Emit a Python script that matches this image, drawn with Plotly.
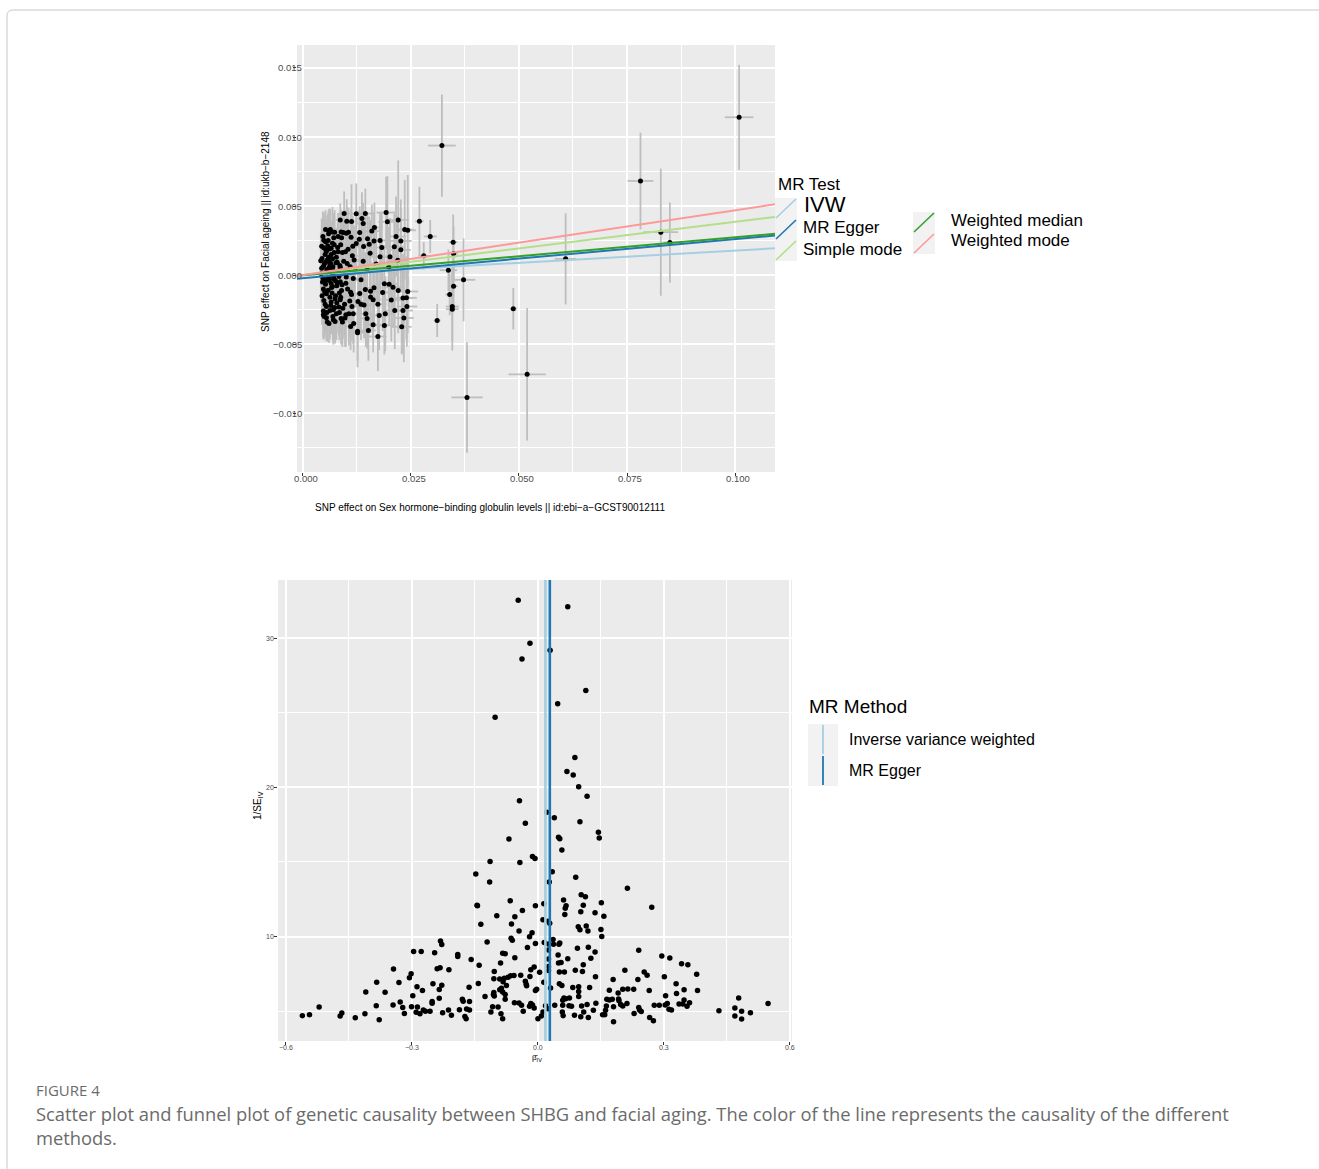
import plotly.graph_objects as go

# ---------------- DATA ----------------
# Top panel: SNP effects (exposure bx, outcome by) with standard errors
snp_bx = [0.0322, 0.0781, 0.1009, 0.0828, 0.0849, 0.0608, 0.0487, 0.0519, 0.0380, 0.0311,
          0.0348, 0.0349, 0.0337, 0.0372, 0.0349, 0.0340, 0.0346, 0.0346, 0.0295, 0.0280, 0.0270,
          0.0096, 0.0124, 0.0145, 0.0193, 0.0221, 0.0087, 0.0113, 0.0196, 0.0140, 0.0064,
          0.0061, 0.0069, 0.0089, 0.0094, 0.0101, 0.0132, 0.0236, 0.0243, 0.0166, 0.0112,
          0.0082, 0.0049, 0.0053, 0.0179, 0.0150, 0.0165, 0.0227, 0.0069, 0.0058, 0.0124,
          0.0154, 0.0212, 0.0227, 0.0049, 0.0066, 0.0081, 0.0105, 0.0141, 0.0055, 0.0073,
          0.0092, 0.0115, 0.0156, 0.0179, 0.0202, 0.0045, 0.0060, 0.0069, 0.0053, 0.0065,
          0.0080, 0.0103, 0.0140, 0.0220, 0.0048, 0.0061, 0.0087, 0.0121, 0.0149, 0.0199,
          0.0057, 0.0075, 0.0093, 0.0109, 0.0068, 0.0084, 0.0101, 0.0047, 0.0061, 0.0073,
          0.0117, 0.0135, 0.0087, 0.0100, 0.0053, 0.0069, 0.0079, 0.0189, 0.0200, 0.0165,
          0.0209, 0.0221, 0.0243, 0.0048, 0.0090, 0.0111, 0.0145, 0.0055, 0.0076, 0.0132,
          0.0157, 0.0185, 0.0240, 0.0049, 0.0066, 0.0087, 0.0109, 0.0163, 0.0232, 0.0157,
          0.0055, 0.0074, 0.0093, 0.0114, 0.0135, 0.0142, 0.0174, 0.0241, 0.0213, 0.0232,
          0.0048, 0.0063, 0.0085, 0.0100, 0.0117, 0.0146, 0.0177, 0.0149, 0.0055, 0.0071,
          0.0089, 0.0061, 0.0075, 0.0111, 0.0163, 0.0189, 0.0229, 0.0127, 0.0127, 0.0174,
          0.0042, 0.0044, 0.0046, 0.0051, 0.0052, 0.0056, 0.0058, 0.0059, 0.0063, 0.0064,
          0.0067, 0.0070, 0.0071, 0.0072, 0.0076, 0.0078, 0.0079, 0.0083, 0.0085, 0.0088,
          0.0091, 0.0095, 0.0098, 0.0053, 0.0050, 0.0057, 0.0066, 0.0043, 0.0062, 0.0074,
          0.0106, 0.0104, 0.0119, 0.0128, 0.0131, 0.0160, 0.0170, 0.0183, 0.0205, 0.0216,
          0.0234, 0.0191, 0.0152, 0.0118, 0.0137,
          0.0044, 0.0045, 0.0047, 0.0048, 0.0050, 0.0051, 0.0052, 0.0054, 0.0055, 0.0056,
          0.0057, 0.0059, 0.0060, 0.0062, 0.0063, 0.0065, 0.0066, 0.0068, 0.0069, 0.0070,
          0.0072, 0.0073, 0.0075, 0.0077, 0.0078, 0.0080, 0.0082, 0.0084, 0.0086, 0.0088,
          0.0090, 0.0092, 0.0094, 0.0097, 0.0099, 0.0102, 0.0107, 0.0110, 0.0113, 0.0116]
snp_by = [0.00938, 0.00682, 0.01143, 0.00311, 0.00236, 0.00118, -0.00243, -0.00718, -0.00885, -0.00328,
          0.00239, 0.00154, 0.00036, -0.00034, -0.00080, -0.00140, -0.00227, -0.00246, 0.00280, 0.00140, 0.00390,
          0.00446, 0.00444, 0.00446, 0.00453, 0.00400, 0.00400, 0.00388, 0.00386, 0.00374, 0.00330,
          0.00320, 0.00313, 0.00313, 0.00309, 0.00304, 0.00309, 0.00330, 0.00325, 0.00345, 0.00275,
          0.00280, 0.00253, 0.00241, 0.00251, 0.00263, 0.00248, 0.00248, 0.00231, 0.00212, 0.00229,
          0.00224, 0.00205, 0.00183, 0.00198, 0.00195, 0.00200, 0.00188, 0.00207, 0.00171, 0.00164,
          0.00164, 0.00140, 0.00159, 0.00133, 0.00133, 0.00121, 0.00130, 0.00118, 0.00094, 0.00082,
          0.00094, 0.00084, 0.00101, 0.00108, 0.00063, 0.00055, 0.00058, 0.00039, 0.00039, 0.00058,
          0.00027, 0.00022, 0.00014, 0.00024, 0.00000, -0.00010, -0.00014, -0.00022, -0.00039, -0.00029,
          -0.00024, -0.00034, -0.00048, -0.00058, -0.00065, -0.00082, -0.00077, -0.00063, -0.00065, -0.00092,
          -0.00087, -0.00111, -0.00118, -0.00101, -0.00111, -0.00123, -0.00104, -0.00135, -0.00149, -0.00133,
          -0.00159, -0.00125, -0.00164, -0.00183, -0.00195, -0.00178, -0.00188, -0.00178, -0.00166, -0.00116,
          -0.00227, -0.00234, -0.00239, -0.00227, -0.00210, -0.00217, -0.00210, -0.00227, -0.00256, -0.00256,
          -0.00287, -0.00256, -0.00270, -0.00287, -0.00280, -0.00280, -0.00292, -0.00313, -0.00309, -0.00323,
          -0.00313, -0.00350, -0.00335, -0.00371, -0.00359, -0.00364, -0.00374, -0.00407, -0.00417, -0.00444,
          0.00105, 0.00050, -0.00050, -0.00120, 0.00150, 0.00040, -0.00020, 0.00250, -0.00160, 0.00110,
          -0.00090, 0.00060, -0.00250, 0.00270, -0.00040, 0.00130, -0.00200, 0.00030, -0.00130, 0.00220,
          -0.00070, 0.00100, -0.00310, 0.00330, -0.00300, -0.00340, -0.00060, 0.00010, 0.00190, 0.00310,
          0.00310, -0.00100, 0.00110, -0.00190, 0.00260, 0.00320, 0.00080, 0.00200, -0.00180, 0.00280,
          -0.00310, -0.00280, -0.00400, -0.00350, 0.00410,
          0.00210, -0.00150, 0.00280, -0.00260, 0.00080, -0.00040, -0.00210, 0.00180, 0.00020, -0.00270,
          0.00110, -0.00110, 0.00300, -0.00030, 0.00080, -0.00220, 0.00150, -0.00130, 0.00040, -0.00300,
          -0.00010, 0.00220, -0.00170, 0.00090, -0.00280, -0.00060, 0.00170, -0.00230, 0.00070, -0.00160,
          0.00270, -0.00340, 0.00020, -0.00210, 0.00170, 0.00390, -0.00280, 0.00060, -0.00140, 0.00210]
snp_se_x = [0.0032, 0.0030, 0.0033, 0.0040, 0.0015, 0.0025, 0.0008, 0.0043, 0.0036, 0.0008,
            0.0010, 0.0010, 0.0020, 0.0027, 0.0010, 0.0010, 0.0015, 0.0015, 0.0015, 0.0012, 0.0010,
            0.0012, 0.0016, 0.0018, 0.0022, 0.0024, 0.0010, 0.0014, 0.0021, 0.0016, 0.0008,
            0.0007, 0.0009, 0.0010, 0.0011, 0.0012, 0.0016, 0.0020, 0.0019, 0.0019, 0.0013,
            0.0010, 0.0007, 0.0007, 0.0020, 0.0017, 0.0018, 0.0025, 0.0008, 0.0007, 0.0014,
            0.0018, 0.0022, 0.0023, 0.0006, 0.0008, 0.0009, 0.0012, 0.0017, 0.0007, 0.0009,
            0.0010, 0.0013, 0.0017, 0.0020, 0.0022, 0.0006, 0.0007, 0.0008, 0.0007, 0.0008,
            0.0009, 0.0012, 0.0017, 0.0023, 0.0006, 0.0007, 0.0009, 0.0014, 0.0017, 0.0021,
            0.0007, 0.0008, 0.0010, 0.0012, 0.0008, 0.0009, 0.0011, 0.0006, 0.0007, 0.0008,
            0.0014, 0.0016, 0.0009, 0.0011, 0.0007, 0.0008, 0.0009, 0.0021, 0.0022, 0.0018,
            0.0022, 0.0023, 0.0024, 0.0006, 0.0009, 0.0012, 0.0017, 0.0007, 0.0008, 0.0016,
            0.0018, 0.0020, 0.0024, 0.0006, 0.0008, 0.0009, 0.0012, 0.0018, 0.0023, 0.0018,
            0.0007, 0.0008, 0.0010, 0.0013, 0.0016, 0.0017, 0.0020, 0.0024, 0.0022, 0.0023,
            0.0006, 0.0007, 0.0009, 0.0011, 0.0014, 0.0017, 0.0020, 0.0017, 0.0007, 0.0008,
            0.0009, 0.0007, 0.0008, 0.0012, 0.0018, 0.0021, 0.0023, 0.0015, 0.0015, 0.0020,
            0.0006, 0.0006, 0.0006, 0.0007, 0.0007, 0.0007, 0.0007, 0.0007, 0.0008, 0.0008,
            0.0008, 0.0008, 0.0008, 0.0009, 0.0009, 0.0009, 0.0009, 0.0009, 0.0010, 0.0010,
            0.0010, 0.0010, 0.0011, 0.0007, 0.0007, 0.0007, 0.0008, 0.0006, 0.0008, 0.0009,
            0.0012, 0.0012, 0.0014, 0.0015, 0.0016, 0.0018, 0.0019, 0.0020, 0.0022, 0.0023,
            0.0023, 0.0021, 0.0017, 0.0014, 0.0016,
            0.0006, 0.0006, 0.0006, 0.0006, 0.0007, 0.0007, 0.0007, 0.0007, 0.0007, 0.0007,
            0.0007, 0.0007, 0.0008, 0.0008, 0.0008, 0.0008, 0.0008, 0.0008, 0.0008, 0.0008,
            0.0009, 0.0009, 0.0009, 0.0009, 0.0009, 0.0009, 0.0010, 0.0010, 0.0010, 0.0010,
            0.0010, 0.0010, 0.0011, 0.0011, 0.0011, 0.0011, 0.0012, 0.0012, 0.0013, 0.0013]
snp_se_y = [0.0037, 0.0035, 0.0038, 0.0046, 0.0029, 0.0033, 0.0015, 0.0048, 0.0040, 0.0012,
            0.0020, 0.0020, 0.0015, 0.0030, 0.0018, 0.0015, 0.0025, 0.0030, 0.0012, 0.0010, 0.0025,
            0.0016, 0.0022, 0.0018, 0.0026, 0.0043, 0.0012, 0.0027, 0.0033, 0.0015, 0.0015,
            0.0016, 0.0018, 0.0016, 0.0015, 0.0017, 0.0019, 0.0036, 0.0040, 0.0018, 0.0020,
            0.0017, 0.0020, 0.0019, 0.0020, 0.0017, 0.0021, 0.0030, 0.0017, 0.0022, 0.0018,
            0.0020, 0.0024, 0.0030, 0.0021, 0.0019, 0.0018, 0.0020, 0.0022, 0.0023, 0.0020,
            0.0021, 0.0027, 0.0024, 0.0026, 0.0028, 0.0022, 0.0021, 0.0024, 0.0022, 0.0023,
            0.0022, 0.0025, 0.0026, 0.0032, 0.0021, 0.0024, 0.0022, 0.0027, 0.0025, 0.0029,
            0.0023, 0.0021, 0.0024, 0.0022, 0.0022, 0.0023, 0.0021, 0.0024, 0.0022, 0.0021,
            0.0026, 0.0024, 0.0020, 0.0022, 0.0023, 0.0022, 0.0021, 0.0028, 0.0030, 0.0027,
            0.0029, 0.0031, 0.0030, 0.0023, 0.0022, 0.0025, 0.0026, 0.0024, 0.0023, 0.0027,
            0.0026, 0.0028, 0.0030, 0.0022, 0.0023, 0.0024, 0.0026, 0.0027, 0.0032, 0.0025,
            0.0022, 0.0023, 0.0022, 0.0025, 0.0026, 0.0024, 0.0027, 0.0029, 0.0028, 0.0031,
            0.0018, 0.0021, 0.0020, 0.0023, 0.0022, 0.0024, 0.0025, 0.0022, 0.0017, 0.0018,
            0.0019, 0.0014, 0.0016, 0.0017, 0.0020, 0.0021, 0.0020, 0.0026, 0.0020, 0.0025,
            0.0020, 0.0022, 0.0021, 0.0022, 0.0020, 0.0023, 0.0022, 0.0020, 0.0021, 0.0022,
            0.0023, 0.0022, 0.0020, 0.0018, 0.0022, 0.0021, 0.0022, 0.0023, 0.0022, 0.0020,
            0.0023, 0.0022, 0.0021, 0.0014, 0.0016, 0.0014, 0.0022, 0.0021, 0.0020, 0.0016,
            0.0018, 0.0024, 0.0025, 0.0025, 0.0021, 0.0019, 0.0028, 0.0026, 0.0030, 0.0029,
            0.0032, 0.0027, 0.0022, 0.0021, 0.0019,
            0.0020, 0.0021, 0.0018, 0.0019, 0.0022, 0.0023, 0.0021, 0.0020, 0.0022, 0.0020,
            0.0021, 0.0022, 0.0017, 0.0023, 0.0022, 0.0021, 0.0020, 0.0022, 0.0023, 0.0018,
            0.0022, 0.0020, 0.0022, 0.0021, 0.0019, 0.0022, 0.0021, 0.0021, 0.0022, 0.0023,
            0.0019, 0.0018, 0.0023, 0.0022, 0.0021, 0.0016, 0.0023, 0.0024, 0.0025, 0.0022]

# MR estimates (method, intercept, slope, colour)
mr_methods = ["IVW", "MR Egger", "Simple mode", "Weighted median", "Weighted mode"]
mr_intercepts = [0.0, -0.00022, 0.0, 0.0, 0.0]
mr_slopes = [0.0178, 0.0283, 0.0386, 0.0274, 0.0470]
mr_colors = ["#A6CEE3", "#1F78B4", "#B2DF8A", "#33A02C", "#FB9A99"]

# Bottom panel: funnel plot (single-SNP Wald ratio, 1/SE)
funnel_b = [-0.047, 0.071, -0.019, 0.029, -0.038, 0.114, 0.047, -0.102, 0.088, 0.069,
            0.084, 0.097, 0.117, -0.044, 0.021, 0.039, 0.100, -0.030, 0.144, 0.146,
            -0.069, 0.049, 0.052, 0.057, -0.013, -0.007, -0.114, -0.043, 0.034, -0.148,
            0.090, 0.027, -0.115, 0.213, 0.103, 0.113, -0.066, 0.061, 0.151, -0.145,
            -0.144, 0.014, -0.006, 0.108, 0.067, 0.065, 0.271, -0.037, 0.064, 0.102,
            0.136, 0.157, -0.098, -0.055, 0.012, 0.024, 0.028, -0.136, -0.063, 0.115,
            0.096, 0.100, 0.119, 0.150, -0.045, -0.014, -0.020, 0.152, -0.064, -0.061,
            0.036, 0.037, 0.052, 0.050, -0.006, -0.121, -0.232, -0.229, 0.015, 0.025,
            0.240, -0.025, 0.094, 0.120, 0.025, 0.136, -0.296, -0.278, -0.246, -0.084,
            -0.078, -0.191, -0.191, 0.048, -0.055, 0.126, 0.295, 0.314, -0.159, 0.025,
            0.071, 0.055, 0.049, -0.089, 0.342, 0.357, -0.140, 0.108, 0.025, -0.009,
            -0.017, -0.212, -0.240, -0.233, -0.344, 0.025, 0.089, 0.207, 0.253, 0.260,
            -0.104, 0.051, 0.063, 0.106, 0.004, -0.302, -0.306, 0.378, -0.065, -0.057,
            -0.071, -0.041, -0.080, -0.091, -0.105, 0.137, 0.301, -0.019, 0.014, -0.030,
            0.179, 0.238, -0.384, -0.331, -0.250, -0.142, -0.027, -0.028, -0.083, 0.051,
            0.057, 0.329, -0.288, -0.229, -0.164, -0.087, -0.075, 0.083, 0.097, 0.123,
            0.030, -0.003, -0.006, -0.275, -0.235, -0.091, 0.170, 0.202, 0.265, 0.380,
            0.348, -0.410, -0.364, -0.084, -0.105, 0.191, 0.214, 0.097, 0.330, 0.228,
            -0.298, -0.126, -0.106, -0.104, -0.078, 0.304, 0.066, 0.075, 0.059, 0.062,
            -0.235, -0.078, -0.180, -0.178, 0.097, 0.177, 0.170, 0.164, 0.192, 0.193,
            -0.163, 0.348, 0.361, 0.478, 0.548, -0.328, -0.252, -0.252, -0.056, -0.045,
            -0.039, -0.017, -0.013, -0.020, -0.385, -0.345, -0.322, -0.301, -0.287, -0.521,
            0.040, 0.059, 0.074, 0.080, 0.104, 0.117, 0.197, 0.202, 0.212, 0.180,
            0.277, 0.303, 0.308, 0.289, 0.345, 0.336, 0.355, 0.018, -0.009, -0.095,
            -0.108, -0.170, -0.163, -0.187, -0.213, -0.257, -0.273, -0.268, -0.281, -0.290,
            -0.318, -0.227, -0.206, -0.174, -0.171, -0.112, -0.088, -0.084, -0.035, 0.012,
            0.000, 0.008, 0.024, 0.058, 0.060, 0.087, 0.102, 0.109, 0.120, 0.132,
            0.159, 0.154, 0.161, 0.180, 0.229, 0.240, 0.242, 0.246, 0.266, 0.275,
            0.312, 0.318, 0.431, 0.469, 0.469, 0.485, 0.485, 0.506, 0.163, 0.138,
            -0.561, -0.544, -0.471, -0.467, -0.435, -0.412, -0.378]
funnel_inv_se = [32.54, 32.10, 29.66, 29.19, 28.60, 26.50, 25.60, 24.70, 22.00, 21.06,
                 20.83, 20.04, 19.40, 19.10, 18.34, 17.96, 17.70, 17.60, 17.00, 16.60,
                 16.54, 16.65, 16.56, 15.80, 15.37, 15.24, 15.03, 14.97, 14.34, 14.20,
                 13.98, 13.66, 13.66, 13.24, 12.80, 12.67, 12.40, 12.45, 12.27, 12.10,
                 12.07, 12.20, 12.07, 12.10, 12.07, 11.90, 11.96, 11.75, 11.48, 11.66,
                 11.60, 11.37, 11.40, 11.33, 11.12, 11.03, 10.90, 10.83, 10.85, 10.70,
                 10.65, 10.45, 10.38, 10.47, 10.38, 10.25, 9.98, 10.00, 9.89, 9.75,
                 9.80, 9.48, 9.57, 9.48, 9.53, 9.64, 9.70, 9.46, 9.60, 9.50,
                 9.08, 9.26, 9.21, 9.28, 9.10, 8.97, 9.00, 9.00, 8.92, 8.88,
                 8.85, 8.79, 8.67, 8.76, 8.58, 8.54, 8.70, 8.56, 8.47, 8.50,
                 8.52, 8.27, 8.22, 8.22, 8.18, 8.11, 8.07, 8.11, 8.00, 7.96,
                 7.78, 7.78, 7.84, 7.91, 7.82, 7.73, 7.75, 7.75, 7.62, 7.40,
                 7.66, 7.62, 7.62, 7.66, 7.60, 7.51, 7.24, 7.48, 7.37, 7.39,
                 7.28, 7.40, 7.20, 7.15, 7.17, 7.30, 7.30, 7.33, 6.94, 7.00,
                 7.12, 7.12, 6.94, 6.92, 6.83, 6.85, 6.70, 6.81, 6.97, 6.83,
                 6.72, 6.83, 6.63, 6.74, 6.60, 6.54, 6.72, 6.58, 6.63, 6.58,
                 6.56, 6.47, 6.38, 6.38, 6.45, 6.43, 6.40, 6.47, 6.38, 6.38,
                 6.43, 6.29, 6.27, 6.29, 6.25, 6.22, 6.49, 6.31, 6.18, 6.47,
                 6.04, 5.98, 6.11, 6.02, 6.11, 6.04, 5.84, 5.89, 5.73, 5.89,
                 5.87, 5.80, 5.80, 5.66, 5.98, 5.80, 5.75, 5.80, 5.82, 5.69,
                 5.64, 5.75, 5.56, 5.89, 5.51, 5.62, 5.64, 5.53, 5.56, 5.55,
                 5.39, 5.51, 5.42, 5.33, 5.37, 5.42, 5.24, 5.30, 5.28, 5.28,
                 5.39, 5.39, 5.37, 5.33, 5.35, 5.44, 5.44, 5.35, 5.51, 5.30,
                 5.39, 5.42, 5.51, 5.39, 5.48, 5.48, 5.33, 5.37, 5.22, 5.28,
                 5.30, 5.15, 5.08, 5.10, 5.08, 4.99, 5.08, 4.99, 4.83, 4.92,
                 4.85, 4.90, 4.72, 4.65, 4.49, 4.94, 4.83, 4.49, 4.99, 4.94,
                 4.49, 4.67, 5.17, 4.94, 4.70, 4.72, 4.63, 4.94, 4.58, 5.06,
                 4.76, 4.76, 5.06, 4.29, 4.85, 5.24, 5.08, 4.97, 4.58, 4.36,
                 5.12, 5.08, 5.02, 5.22, 4.67, 4.47, 4.99, 4.90, 5.35, 5.53,
                 4.70, 4.76, 4.67, 4.88, 4.56, 4.83, 4.43]
funnel_methods = ["Inverse variance weighted", "MR Egger"]
funnel_estimates = [0.0178, 0.0283]
funnel_colors = ["#A6CEE3", "#1F78B4"]

top_xticks = [0.000, 0.025, 0.050, 0.075, 0.100]
top_yticks = [-0.010, -0.005, 0.000, 0.005, 0.010, 0.015]
bot_xticks = [-0.6, -0.3, 0.0, 0.3, 0.6]
bot_yticks = [10, 20, 30]

# ---------------- LAYOUT HELPERS ----------------
W, H = 1319, 1169


def px(x):
    return x / W


def py(y):
    return 1 - y / H


TOP_XR = [-0.0013, 0.1092]
TOP_YR = [-0.01425, 0.01666]
BOT_XR = [-0.619, 0.605]
BOT_YR = [3.0, 33.9]

FONT = "Liberation Sans, Arial, Helvetica, sans-serif"
TICKCOL = "#4D4D4D"


def fmt(v, nd):
    s = f"{v:.{nd}f}"
    return s.replace("-", "\u2212")


fig = go.Figure()

# top scatter with error bars
fig.add_trace(go.Scatter(
    x=snp_bx, y=snp_by, mode="markers",
    marker=dict(color="black", size=5),
    error_x=dict(type="data", array=snp_se_x, color="#BEBEBE", thickness=1.8, width=0),
    error_y=dict(type="data", array=snp_se_y, color="#BEBEBE", thickness=1.8, width=0),
    xaxis="x", yaxis="y", showlegend=False, hoverinfo="skip"))

for name, a, b, c in zip(mr_methods, mr_intercepts, mr_slopes, mr_colors):
    fig.add_trace(go.Scatter(
        x=[TOP_XR[0], TOP_XR[1]], y=[a + b * TOP_XR[0], a + b * TOP_XR[1]],
        mode="lines", line=dict(color=c, width=2), name=name,
        xaxis="x", yaxis="y", showlegend=False, hoverinfo="skip"))

# funnel points
fig.add_trace(go.Scatter(
    x=funnel_b, y=funnel_inv_se, mode="markers",
    marker=dict(color="black", size=5.5),
    xaxis="x2", yaxis="y2", showlegend=False, hoverinfo="skip"))

for name, b, c in zip(funnel_methods, funnel_estimates, funnel_colors):
    fig.add_trace(go.Scatter(
        x=[b, b], y=[BOT_YR[0], BOT_YR[1]], mode="lines",
        line=dict(color=c, width=2.6), name=name,
        xaxis="x2", yaxis="y2", showlegend=False, hoverinfo="skip"))

axis_common = dict(showline=False, zeroline=False, showgrid=True, gridcolor="white",
                   ticks="outside", ticklen=3, tickwidth=1, tickcolor="#333333",
                   showticklabels=False, gridwidth=1.6)

fig.update_layout(
    width=W, height=H, margin=dict(l=0, r=0, t=0, b=0),
    paper_bgcolor="white", plot_bgcolor="#EBEBEB",
    xaxis=dict(domain=[px(297), px(775)], range=TOP_XR, tickvals=top_xticks, anchor="y",
               minor=dict(dtick=0.0125, tick0=0, showgrid=True, gridcolor="white",
                          gridwidth=0.8, ticks=""), **axis_common),
    yaxis=dict(domain=[py(472), py(45)], range=TOP_YR, tickvals=top_yticks, anchor="x",
               minor=dict(dtick=0.0025, tick0=0, showgrid=True, gridcolor="white",
                          gridwidth=0.8, ticks=""), **axis_common),
    xaxis2=dict(domain=[px(278), px(792)], range=BOT_XR, tickvals=bot_xticks, anchor="y2",
                minor=dict(dtick=0.15, tick0=0, showgrid=True, gridcolor="white",
                           gridwidth=0.8, ticks=""), **axis_common),
    yaxis2=dict(domain=[py(1041), py(580)], range=BOT_YR, tickvals=bot_yticks, anchor="x2",
                minor=dict(dtick=5, tick0=0, showgrid=True, gridcolor="white",
                           gridwidth=0.8, ticks=""), **axis_common),
)

ann = []
shapes = []


def text(x, y, s, size, color="black", xanchor="left", angle=0, family=FONT):
    ann.append(dict(x=px(x), y=py(y), xref="paper", yref="paper", text=s,
                    showarrow=False, xanchor=xanchor, yanchor="middle",
                    textangle=angle, font=dict(family=family, size=size, color=color)))


# tick labels (drawn through the axes' own scales)
for v in top_xticks:
    ann.append(dict(x=v, y=py(478), xref="x", yref="paper", text=fmt(v, 3), showarrow=False,
                    xanchor="center", yanchor="middle", xshift=3,
                    font=dict(family=FONT, size=9.5, color=TICKCOL)))
for v in top_yticks:
    ann.append(dict(x=px(304), y=v, xref="paper", yref="y", text=fmt(v, 3), showarrow=False,
                    xanchor="right", yanchor="middle",
                    font=dict(family=FONT, size=9.5, color=TICKCOL)))
for v in bot_xticks:
    ann.append(dict(x=v, y=py(1047), xref="x2", yref="paper", text=fmt(v, 1), showarrow=False,
                    xanchor="center", yanchor="middle",
                    font=dict(family=FONT, size=7, color=TICKCOL)))
for v in bot_yticks:
    ann.append(dict(x=px(276), y=v, xref="paper", yref="y2", text=str(v), showarrow=False,
                    xanchor="right", yanchor="middle",
                    font=dict(family=FONT, size=7, color=TICKCOL)))

# axis titles
text(266, 232, "SNP effect on Facial ageing || id:ukb\u2212b\u22122148", 10, xanchor="center", angle=-90)
text(490, 507, "SNP effect on Sex hormone\u2212binding globulin levels || id:ebi\u2212a\u2212GCST90012111", 10,
     xanchor="center")
text(258, 806, "1/SE<sub>IV</sub>", 10, xanchor="center", angle=-90)
text(537, 1058, "\u03b2\u0302<sub>IV</sub>", 8, xanchor="center")

# top legend
text(776, 185, "MR Test", 17)
col1 = [(198, 219), (219, 240), (240, 261)]
col2 = [(212, 233), (233, 254)]
for (y0, y1), i in zip(col1, [0, 1, 2]):
    shapes.append(dict(type="rect", xref="paper", yref="paper", x0=px(775), x1=px(797),
                       y0=py(y1), y1=py(y0), fillcolor="#F2F2F2", line=dict(width=0), layer="above"))
    shapes.append(dict(type="line", xref="paper", yref="paper", x0=px(776), x1=px(796),
                       y0=py(y1 - 1), y1=py(y0 + 1), line=dict(color=mr_colors[i], width=1.6),
                       layer="above"))
for (y0, y1), i in zip(col2, [3, 4]):
    shapes.append(dict(type="rect", xref="paper", yref="paper", x0=px(913), x1=px(935),
                       y0=py(y1), y1=py(y0), fillcolor="#F2F2F2", line=dict(width=0), layer="above"))
    shapes.append(dict(type="line", xref="paper", yref="paper", x0=px(914), x1=px(934),
                       y0=py(y1 - 1), y1=py(y0 + 1), line=dict(color=mr_colors[i], width=1.6),
                       layer="above"))
text(802, 205, mr_methods[0], 22)
text(801, 228, mr_methods[1], 17)
text(801, 249, mr_methods[2], 17)
text(949, 220, mr_methods[3], 17)
text(949, 241, mr_methods[4], 17)

# bottom legend
text(807, 706, "MR Method", 19)
for k, (y0, y1) in enumerate([(724, 755), (755, 786)]):
    shapes.append(dict(type="rect", xref="paper", yref="paper", x0=px(808), x1=px(838),
                       y0=py(y1), y1=py(y0), fillcolor="#F2F2F2", line=dict(width=0), layer="above"))
    shapes.append(dict(type="line", xref="paper", yref="paper", x0=px(823), x1=px(823),
                       y0=py(y1 - 1), y1=py(y0 + 1), line=dict(color=funnel_colors[k], width=1.8),
                       layer="above"))
text(847, 740, funnel_methods[0], 16)
text(847, 770, funnel_methods[1], 16)

# caption
CAP = "Open Sans, Noto Sans, sans-serif"
text(34, 1090, "FIGURE 4", 15, color="#6B6B6B", family=CAP)
text(34, 1113, "Scatter plot and funnel plot of genetic causality between SHBG and facial aging. "
               "The color of the line represents the causality of the different", 18.35,
     color="#6B6B6B", family=CAP)
text(34, 1137, "methods.", 18.35, color="#6B6B6B", family=CAP)

# page frame
frame = (f"M {px(7)},{py(1169)} L {px(7)},{py(16)} Q {px(7)},{py(10)} {px(13)},{py(10)} "
         f"L {px(1319)},{py(10)}")
shapes.append(dict(type="path", xref="paper", yref="paper", path=frame,
                   line=dict(color="#C8C8C8", width=1)))

fig.update_layout(annotations=ann, shapes=shapes)

fig.write_html(
    "out.html",
    config={"displayModeBar": False},
    post_script=("document.documentElement.style.overflow='hidden';"
                 "document.body.style.margin='0';document.body.style.overflow='hidden';"),
)
